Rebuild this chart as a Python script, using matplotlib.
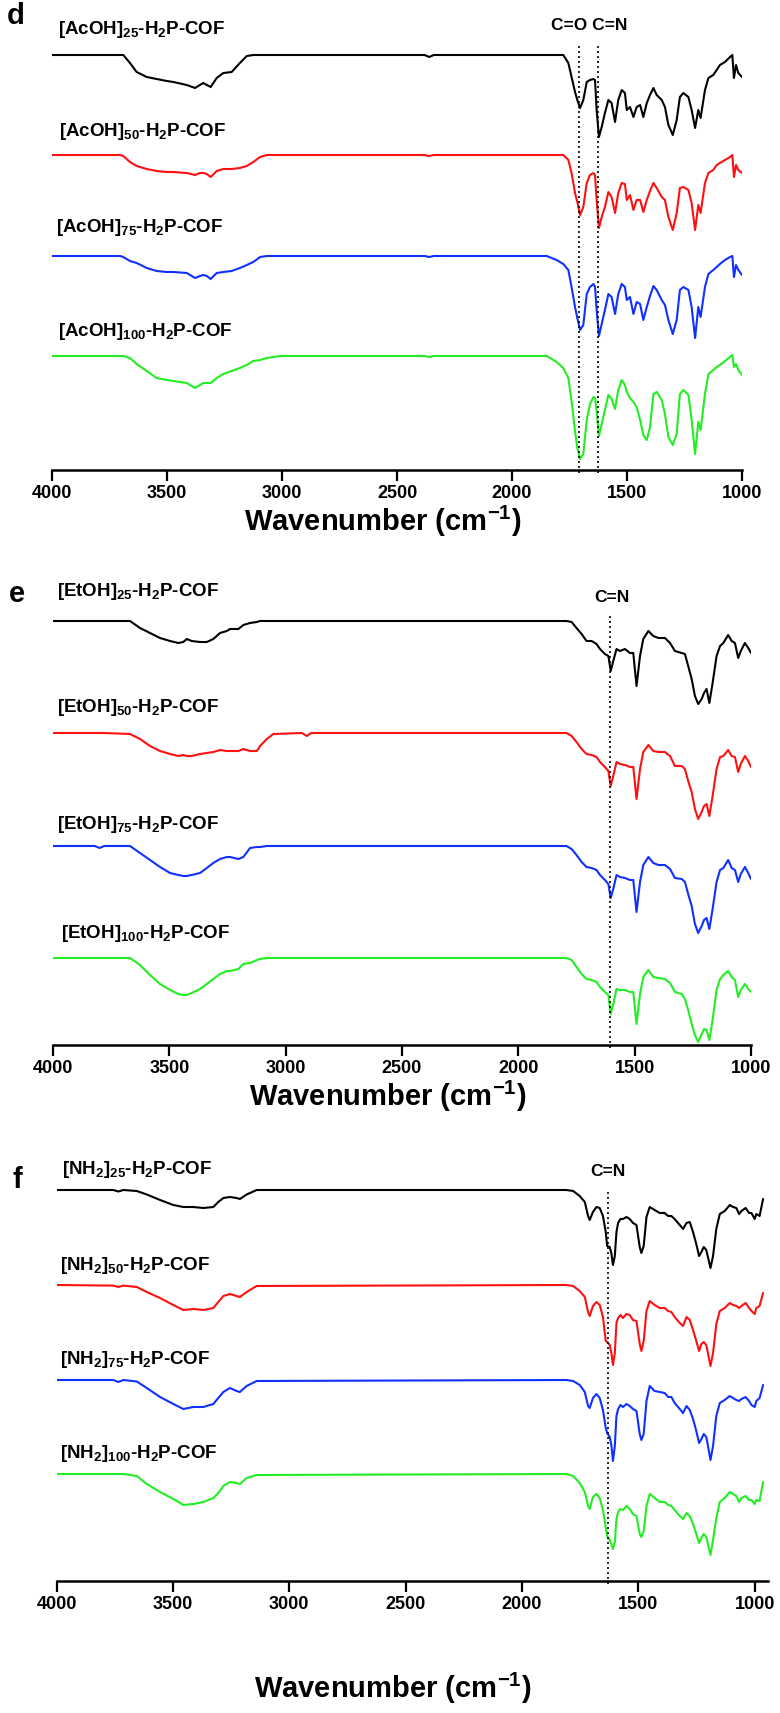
import numpy as np
import matplotlib
matplotlib.use("Agg")
import matplotlib.pyplot as plt

plt.rcParams['font.family'] = ['Liberation Sans', 'DejaVu Sans']
plt.rcParams['mathtext.default'] = 'regular'

W, H = 780, 1713

# ---- panel d : [AcOH]x-H2P-COF  (band depth below baseline, a.u.) ----
wn_d = [4000, 3704, 3690, 3661, 3632, 3588, 3545, 3501, 3472, 3414, 3378, 3357, 3342, 3327, 3310,
        3284, 3255, 3219, 3183, 3153, 3125, 3095, 3066, 3009,
        2380, 2360, 2340, 1849,
        1806, 1777, 1755, 1741, 1726, 1716, 1704, 1690, 1675, 1661,
        1646, 1639, 1632, 1622, 1610, 1596, 1581, 1567, 1552, 1538,
        1523, 1509, 1501, 1487, 1472, 1458, 1443, 1429, 1414, 1400,
        1385, 1371, 1349, 1335, 1320, 1301, 1284, 1270, 1255, 1233,
        1219, 1204, 1190, 1180, 1161, 1146, 1125, 1110, 1096, 1074,
        1052, 1042, 1035, 1026, 1016, 1000]
acoh_25 = [0, 0, 0, 8, 17, 22, 24, 26, 27, 30, 33, 30, 28, 30, 32, 23, 18, 17, 8, 1, 0, 0, 0, 0,
           0, 2, 0, 0,
           0, 0, 8, 22, 37, 45, 53, 45, 27, 25,
           24, 25, 55, 82, 72, 58, 45, 48, 67, 45,
           35, 38, 55, 52, 62, 52, 50, 62, 48, 40,
           33, 40, 45, 52, 70, 80, 65, 42, 38, 42,
           55, 73, 55, 63, 35, 23, 20, 15, 10, 7,
           2, 0, 23, 10, 18, 22]
acoh_50 = [0, 0, 1, 7, 11, 14, 16, 17, 17, 18, 20, 18, 18, 19, 22, 16, 14, 14, 13, 11, 7, 2, 0, 0,
           0, 1, 0, 0,
           0, 0, 5, 18, 38, 47, 60, 52, 28, 20,
           18, 20, 45, 73, 62, 52, 37, 42, 58, 38,
           28, 29, 45, 40, 55, 45, 45, 57, 45, 36,
           28, 33, 42, 45, 62, 75, 58, 33, 32, 35,
           48, 75, 50, 58, 28, 18, 15, 10, 8, 5,
           2, 0, 22, 10, 15, 18]
acoh_75 = [0, 0, 1, 5, 7, 12, 15, 16, 16, 17, 22, 20, 19, 20, 23, 17, 16, 15, 12, 9, 6, 1, 0, 0,
           0, 1, 0, 0,
           4, 8, 14, 31, 51, 62, 74, 69, 38, 31,
           28, 31, 54, 80, 68, 54, 38, 41, 58, 38,
           28, 31, 44, 41, 58, 46, 48, 64, 51, 40,
           30, 34, 44, 49, 64, 78, 64, 34, 31, 34,
           51, 82, 51, 61, 31, 18, 14, 11, 8, 4,
           1, 0, 21, 9, 14, 19]
acoh_100 = [0, 0, 0, 2, 8, 15, 22, 24, 25, 27, 32, 29, 27, 27, 27, 22, 18, 15, 12, 9, 5, 4, 2, 0,
            0, 1, 0, 0,
            6, 12, 22, 45, 75, 92, 103, 98, 64, 48,
            41, 42, 55, 80, 68, 54, 39, 43, 53, 34,
            24, 29, 36, 42, 46, 51, 64, 79, 84, 71,
            38, 36, 44, 58, 81, 89, 78, 38, 34, 39,
            64, 98, 66, 74, 38, 18, 14, 11, 9, 5,
            1, -1, 11, 8, 14, 19]

# ---- panel e : [EtOH]x-H2P-COF ----
wn_e = [4000, 3820, 3800, 3780, 3669, 3626, 3583, 3540, 3497, 3461, 3440, 3425, 3404, 3368, 3339,
        3311, 3282, 3253, 3239, 3203, 3182, 3153, 3124, 3110, 3081, 3053,
        2930, 2909, 2890, 1793,
        1771, 1750, 1728, 1707, 1685, 1664, 1649, 1628, 1613, 1603,
        1592, 1578, 1563, 1542, 1520, 1506, 1492, 1477, 1463, 1441,
        1420, 1398, 1370, 1348, 1327, 1298, 1284, 1270, 1255, 1241,
        1227, 1212, 1202, 1191, 1179, 1165, 1148, 1133, 1119, 1098,
        1083, 1069, 1055, 1044, 1026, 1012, 1000]
etoh_25 = [0, 0, 0, 0, 0, 7, 12, 17, 20, 22, 21, 18, 20, 21, 21, 18, 12, 10, 8, 8, 4, 2, 1, 0, 0, 0,
           0, 0, 0, 0,
           1, 7, 13, 20, 20, 23, 28, 33, 35, 50,
           40, 28, 30, 28, 32, 32, 65, 35, 18, 10,
           15, 17, 17, 22, 30, 32, 33, 45, 58, 75,
           83, 78, 72, 68, 82, 62, 35, 25, 22, 14,
           20, 22, 37, 30, 22, 27, 32]
etoh_50 = [0, 0, 0, 0, 1, 6, 13, 18, 21, 23, 22, 23, 23, 21, 20, 19, 17, 18, 18, 18, 16, 18, 18, 13, 6, 1,
           0, 3, 0, 0,
           3, 9, 16, 21, 22, 24, 29, 34, 38, 53,
           43, 29, 31, 32, 34, 34, 66, 36, 19, 12,
           18, 19, 19, 23, 33, 33, 36, 48, 59, 76,
           86, 79, 73, 71, 83, 63, 36, 24, 23, 17,
           23, 24, 39, 31, 23, 28, 34]
etoh_75 = [0, 0, 2, 0, 0, 7, 14, 21, 27, 29, 30, 30, 29, 27, 22, 17, 13, 11, 11, 13, 11, 2, 1, 1, 0, 0,
           0, 0, 0, 0,
           3, 9, 16, 21, 22, 24, 29, 34, 38, 52,
           43, 29, 31, 32, 34, 34, 66, 36, 19, 11,
           17, 19, 19, 23, 32, 33, 36, 48, 60, 78,
           87, 80, 74, 72, 83, 63, 36, 24, 22, 14,
           22, 24, 36, 28, 21, 27, 33]
etoh_100 = [0, 0, 0, 0, 0, 7, 17, 26, 32, 36, 37, 37, 35, 31, 26, 21, 16, 13, 13, 11, 6, 5, 2, 1, 0, 0,
            0, 0, 0, 0,
            2, 9, 16, 21, 22, 24, 29, 34, 37, 56,
            46, 31, 32, 32, 34, 34, 66, 36, 19, 12,
            19, 20, 21, 25, 34, 36, 41, 52, 66, 77,
            84, 76, 71, 72, 82, 62, 32, 21, 17, 13,
            19, 22, 39, 32, 26, 31, 34]

# ---- panel f : [NH2]x-H2P-COF ----
wn_f = [4000, 3756, 3734, 3713, 3655, 3612, 3555, 3498, 3455, 3412, 3369, 3326, 3305, 3283, 3255,
        3226, 3212, 3183, 3140,
        1809,
        1780, 1752, 1730, 1716, 1709, 1695, 1680, 1666, 1652, 1640,
        1634, 1623, 1616, 1609, 1601, 1594, 1587, 1577, 1566, 1551,
        1537, 1523, 1508, 1494, 1487, 1477, 1465, 1451, 1430, 1408,
        1387, 1372, 1358, 1344, 1322, 1308, 1293, 1279, 1265, 1251,
        1239, 1229, 1219, 1208, 1196, 1190, 1179, 1165, 1150, 1129,
        1107, 1093, 1079, 1067, 1057, 1039, 1024, 1014, 1000, 993,
        979, 964]
nh2_25 = [0, 0, 1.5, 0, 1, 4.5, 10, 15, 17, 17, 18, 17, 12, 8, 7, 8, 9, 4.5, 0,
          0,
          1, 6, 12, 26, 30, 22, 17, 18, 26, 42,
          56, 57, 63, 75, 66, 42, 33, 29, 29, 27,
          29, 33, 35, 57, 63, 56, 27, 17, 20, 23,
          23, 26, 26, 29, 35, 39, 33, 32, 42, 54,
          66, 62, 57, 60, 72, 78, 66, 39, 24, 21,
          15, 17, 18, 24, 21, 18, 23, 23, 29, 24,
          26, 9]
nh2_50 = [0, 0.6, 2, 0.6, 2, 7, 13, 20, 25, 24, 25, 23, 17, 11, 9, 11, 12, 7, 1,
          0,
          1, 6, 12, 27, 31, 21, 17, 20, 32, 56,
          57, 60, 68, 80, 68, 38, 33, 30, 33, 29,
          30, 35, 36, 59, 66, 56, 26, 16, 20, 23,
          23, 26, 27, 32, 38, 41, 32, 35, 45, 56,
          66, 59, 57, 60, 74, 81, 68, 39, 26, 23,
          18, 20, 21, 23, 21, 18, 23, 26, 29, 23,
          21, 8]
nh2_75 = [0, 0, 2, 0, 1.5, 8, 17, 24, 29, 27, 27, 24, 18, 12, 8, 11, 12, 6, 1,
          0,
          1, 5, 12, 26, 28, 18, 14, 18, 30, 48,
          53, 57, 65, 81, 66, 36, 29, 25, 27, 24,
          26, 29, 31, 54, 60, 54, 21, 6, 11, 12,
          13, 17, 17, 23, 29, 33, 26, 30, 39, 51,
          63, 59, 54, 57, 72, 80, 66, 36, 23, 20,
          16, 18, 20, 21, 19, 17, 21, 25, 27, 21,
          18, 5]
nh2_100 = [0, 0, 0, 0, 2, 10, 18, 25, 31, 30, 28, 24, 19, 12, 8, 9, 10, 4, 1,
           0,
           2, 9, 18, 32, 35, 23, 20, 24, 36, 54,
           62, 66, 70, 75, 68, 45, 38, 35, 36, 32,
           35, 40, 42, 60, 63, 57, 32, 20, 24, 28,
           28, 31, 32, 36, 42, 45, 39, 42, 50, 60,
           69, 64, 60, 63, 75, 81, 66, 44, 28, 24,
           18, 20, 22, 28, 24, 22, 26, 26, 30, 26,
           27, 8]

ticks = [4000, 3500, 3000, 2500, 2000, 1500, 1000]
colors = ['#000000', '#ff1010', '#1030ff', '#22ee22']


def fx(x):
    return x / W


def fy(y):
    return 1 - y / H


fig = plt.figure(figsize=(W / 100, H / 100), dpi=100)


def panel(letter, wn, traces, names, box, xlim, offsets, marks, mark_top,
          mark_text, mark_xy, name_xy, letter_xy, xlabel_xy):
    left, top, right, bottom = box
    ax = fig.add_axes([fx(left), fy(bottom), (right - left) / W, (bottom - top) / H])
    ax.set_xlim(*xlim)
    ax.set_ylim(0, bottom - top)
    for vals, off, c in zip(traces, offsets, colors):
        ax.plot(wn, off - np.array(vals, dtype=float), color=c, lw=1.5,
                solid_joinstyle='round', solid_capstyle='round')
    for m in marks:
        ax.vlines(m, -3, mark_top, colors='k', linestyles=(0, (1.2, 1.8)), lw=1.2, clip_on=False)
    for s in ['left', 'right', 'top']:
        ax.spines[s].set_visible(False)
    ax.spines['bottom'].set_linewidth(1.8)
    ax.set_yticks([])
    ax.set_xticks(ticks)
    ax.tick_params(axis='x', direction='out', length=8, width=1.6, pad=3, labelsize=13)
    for lbl in ax.get_xticklabels():
        lbl.set_fontweight('bold')

    for (x, y), name in zip(name_xy, names):
        fig.text(fx(x), fy(y), name, fontsize=13.5, fontweight='bold', ha='left', va='center')
    fig.text(fx(mark_xy[0]), fy(mark_xy[1]), mark_text, fontsize=12.5,
             fontweight='bold', ha='center', va='center')
    fig.text(fx(letter_xy[0]), fy(letter_xy[1]), letter, fontsize=21,
             fontweight='bold', ha='center', va='center')
    fig.text(fx(xlabel_xy[0]), fy(xlabel_xy[1]), 'Wavenumber (cm$^{-1}$)',
             fontsize=21, fontweight='bold', ha='center', va='center')
    return ax


panel('d', wn_d, [acoh_25, acoh_50, acoh_75, acoh_100],
      ['[AcOH]$_{25}$-H$_{2}$P-COF', '[AcOH]$_{50}$-H$_{2}$P-COF',
       '[AcOH]$_{75}$-H$_{2}$P-COF', '[AcOH]$_{100}$-H$_{2}$P-COF'],
      box=(52, 0, 742, 470), xlim=(4000, 1000), offsets=[415, 315, 214, 114],
      marks=[1710, 1625], mark_top=425, mark_text='C=O C=N', mark_xy=(589, 25),
      name_xy=[(58, 30), (59, 131), (56, 228), (58, 331)],
      letter_xy=(16, 16), xlabel_xy=(383, 521))

panel('e', wn_e, [etoh_25, etoh_50, etoh_75, etoh_100],
      ['[EtOH]$_{25}$-H$_{2}$P-COF', '[EtOH]$_{50}$-H$_{2}$P-COF',
       '[EtOH]$_{75}$-H$_{2}$P-COF', '[EtOH]$_{100}$-H$_{2}$P-COF'],
      box=(53, 560, 751, 1045), xlim=(4000, 1000), offsets=[424, 312, 199, 87],
      marks=[1606], mark_top=432, mark_text='C=N', mark_xy=(612, 597),
      name_xy=[(57, 591), (57, 708), (57, 825), (61, 933)],
      letter_xy=(17, 594), xlabel_xy=(388, 1096))

panel('f', wn_f, [nh2_25, nh2_50, nh2_75, nh2_100],
      ['[NH$_{2}$]$_{25}$-H$_{2}$P-COF', '[NH$_{2}$]$_{50}$-H$_{2}$P-COF',
       '[NH$_{2}$]$_{75}$-H$_{2}$P-COF', '[NH$_{2}$]$_{100}$-H$_{2}$P-COF'],
      box=(56.5, 1140, 767.5, 1581), xlim=(4000, 945), offsets=[391, 296, 201, 107],
      marks=[1630], mark_top=391, mark_text='C=N', mark_xy=(608, 1171),
      name_xy=[(62, 1170), (60, 1265), (60, 1360), (60, 1453)],
      letter_xy=(17, 1180), xlabel_xy=(393, 1688))

fig.savefig('out.png', dpi=100)
